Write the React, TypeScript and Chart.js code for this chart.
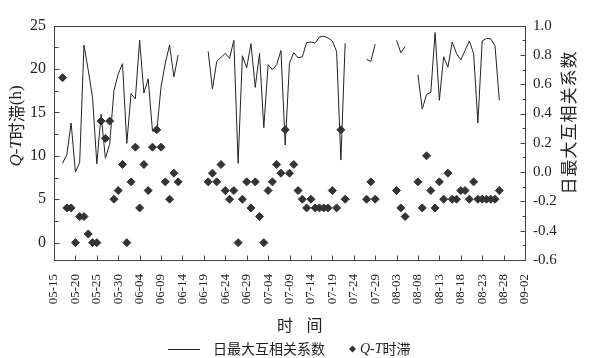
import React, { useEffect, useRef } from 'react';
import { Chart, registerables } from 'chart.js';

Chart.register(...registerables);

// x tick labels (every 5 days, 05-15 .. 09-02); day 0 = 05-15
const xTickLabels = ['05-15', '05-20', '05-25', '05-30', '06-04', '06-09', '06-14', '06-19', '06-24', '06-29', '07-04', '07-09', '07-14', '07-19', '07-24', '07-29', '08-03', '08-08', '08-13', '08-18', '08-23', '08-28', '09-02'];
const firstDataDay = 2; // 05-17

// 日最大互相关系数 (right axis), one value per day from 05-17 to 08-28
const corrValues: (number | null)[] = [
  0.06, 0.12, 0.335, 0.0, 0.067, 0.867, 0.695, 0.51, 0.056, 0.394, 0.095, 0.19, 0.557, 0.67,
  0.74, 0.196, 0.535, 0.5, 0.9, 0.54, 0.637, 0.28, 0.277, 0.583, 0.744, 0.867, 0.65, 0.8,
  null, null, null, null, null, null,
  0.824, 0.568, 0.755, 0.783, 0.81, 0.776, 0.9, 0.06, 0.794, 0.712, 0.877, 0.578, 0.81, 0.303,
  0.733, 0.7, 0.733, 0.83, 0.185, 0.744, 0.815, 0.78, 0.787, 0.884, 0.888, 0.88, 0.923, 0.927,
  0.916, 0.895, 0.824, 0.082, 0.88,
  null, null, null, null,
  0.77, 0.755, 0.873,
  null, null, null, null,
  0.9, 0.815, 0.856,
  null, null,
  0.665, 0.43, 0.53, 0.544, 0.953, 0.49, 0.787, 0.716, 0.888, 0.81, 0.766, 0.83, 0.895, 0.81,
  0.335, 0.895, 0.912, 0.91, 0.862, 0.49,
];

// Q-T时滞 (h) (left axis), one value per day from 05-17 to 08-28
const lagValues: (number | null)[] = [
  19, 4, 4, 0, 3, 3, 1, 0, 0, 14, 12, 14, 5, 6, 9, 0, 7, 11, 4, 9, 6, 11, 13, 11, 7, 5, 8, 7,
  null, null, null, null, null, null,
  7, 8, 7, 9, 6, 5, 6, 0, 5, 7, 4, 7, 3, 0, 6, 7, 9, 8, 13, 8, 9, 6, 5, 4, 5, 4, 4, 4, 4, 6, 4, 13, 5,
  null, null, null, null,
  5, 7, 5,
  null, null, null, null,
  6, 4, 3,
  null, null,
  7, 4, 10, 6, 4, 7, 5, 8, 5, 5, 6, 6, 5, 7, 5, 5, 5, 5, 5, 6,
];

const leftTicks = [0, 5, 10, 15, 20, 25];
const rightTicks = [-0.6, -0.4, -0.2, 0, 0.2, 0.4, 0.6, 0.8, 1.0];

const SERIF = '"Liberation Serif", "Times New Roman", "Noto Sans CJK SC", serif';
const CJK = '"Noto Sans CJK SC", "Noto Sans CJK JP", sans-serif';
const INK = '#222';

const decorPlugin = {
  id: 'decor',
  afterDraw(chart: any) {
    const { ctx, chartArea: a, scales } = chart;
    const sx = scales.x, sy = scales.y, sy1 = scales.y1;
    ctx.save();
    ctx.strokeStyle = '#444';
    ctx.lineWidth = 1;
    const L = Math.round(a.left) + 0.5, R = Math.round(a.right) + 0.5;
    const T = Math.round(a.top) + 0.5, B = Math.round(a.bottom) + 0.5;
    ctx.strokeRect(L, T, R - L, B - T);

    ctx.beginPath();
    // left axis inward ticks
    leftTicks.forEach((v, i) => {
      const p = Math.round(sy.getPixelForValue(v)) + 0.5;
      ctx.moveTo(L, p); ctx.lineTo(L + 5, p);
      if (i < leftTicks.length - 1) {
        const m = Math.round(sy.getPixelForValue((v + leftTicks[i + 1]) / 2)) + 0.5;
        ctx.moveTo(L, m); ctx.lineTo(L + 4, m);
      }
    });
    // right axis inward ticks
    rightTicks.forEach((v, i) => {
      const p = Math.round(sy1.getPixelForValue(v)) + 0.5;
      ctx.moveTo(R, p); ctx.lineTo(R - 5, p);
      if (i < rightTicks.length - 1) {
        const m = Math.round(sy1.getPixelForValue((v + rightTicks[i + 1]) / 2)) + 0.5;
        ctx.moveTo(R, m); ctx.lineTo(R - 3, m);
      }
    });
    // bottom axis inward ticks
    xTickLabels.forEach((_, i) => {
      const p = Math.round(sx.getPixelForValue(i * 5)) + 0.5;
      ctx.moveTo(p, B); ctx.lineTo(p, B - 5);
    });
    ctx.stroke();

    ctx.fillStyle = INK;
    ctx.textBaseline = 'middle';

    // left title: Q-T时滞(h)
    ctx.save();
    ctx.translate(9, 118);
    ctx.rotate(-Math.PI / 2);
    const parts = [
      { t: 'Q-T', f: `italic 17px ${SERIF}` },
      { t: '时滞', f: `17px ${CJK}` },
      { t: '(h)', f: `17px ${SERIF}` },
    ];
    let total = 0;
    parts.forEach((p) => { ctx.font = p.f; total += ctx.measureText(p.t).width; });
    let cx = -total / 2;
    ctx.textAlign = 'left';
    parts.forEach((p) => { ctx.font = p.f; ctx.fillText(p.t, cx, 0); cx += ctx.measureText(p.t).width; });
    ctx.restore();

    // right title: 日最大互相关系数
    ctx.save();
    ctx.translate(561, 115);
    ctx.rotate(-Math.PI / 2);
    ctx.font = `17px ${CJK}`;
    ctx.textAlign = 'center';
    const rt = '日最大互相关系数';
    const step = 18;
    for (let i = 0; i < rt.length; i++) {
      ctx.fillText(rt[i], -((rt.length - 1) * step) / 2 + i * step, 0);
    }
    ctx.restore();

    // x title: 时 间
    ctx.font = `16px ${CJK}`;
    ctx.textAlign = 'center';
    ctx.fillText('时', 277, 317);
    ctx.fillText('间', 306.5, 317);

    // legend
    const ly = 341;
    ctx.strokeStyle = INK;
    ctx.beginPath();
    ctx.moveTo(160, ly + 0.5); ctx.lineTo(192, ly + 0.5);
    ctx.stroke();
    ctx.font = `14px ${CJK}`;
    ctx.textAlign = 'left';
    ctx.fillText('日最大互相关系数', 205, ly);
    ctx.fillStyle = '#333';
    ctx.beginPath();
    const dx = 344.5, dr = 3.5;
    ctx.moveTo(dx - dr, ly); ctx.lineTo(dx, ly - dr); ctx.lineTo(dx + dr, ly); ctx.lineTo(dx, ly + dr);
    ctx.closePath(); ctx.fill();
    ctx.fillStyle = INK;
    ctx.font = `italic 14px ${SERIF}`;
    ctx.fillText('Q-T', 352, ly);
    const qw = ctx.measureText('Q-T').width;
    ctx.font = `14px ${CJK}`;
    ctx.fillText('时滞', 352 + qw, ly);
    ctx.restore();
  },
};

export default function App() {
  const ref = useRef<HTMLCanvasElement | null>(null);
  useEffect(() => {
    if (!ref.current) return;
    const corrData = corrValues.map((v, i) => ({ x: firstDataDay + i, y: v }));
    const lagData = lagValues.map((v, i) => ({ x: firstDataDay + i, y: v }));
    const chart = new Chart(ref.current, {
      type: 'line',
      data: {
        datasets: [
          {
            label: 'Q-T时滞',
            data: lagData as any,
            yAxisID: 'y',
            showLine: false,
            pointStyle: 'rectRot',
            pointRadius: 4,
            pointBackgroundColor: '#333',
            pointBorderColor: '#333',
            pointBorderWidth: 1,
            borderColor: '#333',
          },
          {
            label: '日最大互相关系数',
            data: corrData as any,
            yAxisID: 'y1',
            borderColor: INK,
            borderWidth: 1,
            pointRadius: 0,
            spanGaps: false,
            tension: 0,
          },
        ],
      },
      options: {
        responsive: false,
        animation: false,
        events: [],
        layout: { padding: { top: 4, left: 0, right: 0, bottom: 0 } },
        plugins: { legend: { display: false }, tooltip: { enabled: false }, title: { display: false } },
        scales: {
          x: {
            type: 'linear',
            min: 0,
            max: 110,
            grid: { display: false, drawTicks: false },
            border: { display: false },
            afterBuildTicks: (s: any) => { s.ticks = xTickLabels.map((_, i) => ({ value: i * 5 })); },
            afterFit: (s: any) => { s.height = 98; },
            ticks: {
              autoSkip: false,
              minRotation: 90,
              maxRotation: 90,
              padding: 14,
              color: INK,
              font: { family: SERIF, size: 13 },
              callback: (v: any) => xTickLabels[Math.round(Number(v) / 5)] ?? '',
            },
          },
          y: {
            type: 'linear',
            position: 'left',
            min: -2,
            max: 25,
            grid: { display: false, drawTicks: false },
            border: { display: false },
            afterBuildTicks: (s: any) => { s.ticks = leftTicks.map((v) => ({ value: v })); },
            afterFit: (s: any) => { s.width = 46; },
            ticks: { padding: 8, color: INK, font: { family: SERIF, size: 16 } },
          },
          y1: {
            type: 'linear',
            position: 'right',
            min: -0.6,
            max: 1.0,
            grid: { display: false, drawTicks: false },
            border: { display: false },
            afterBuildTicks: (s: any) => { s.ticks = rightTicks.map((v) => ({ value: v })); },
            afterFit: (s: any) => { s.width = 58; },
            ticks: {
              padding: 8,
              color: INK,
              font: { family: SERIF, size: 15 },
              callback: (v: any) => Number(v).toFixed(1),
            },
          },
        },
      },
      plugins: [decorPlugin],
    });
    return () => chart.destroy();
  }, []);
  return (
    <div style={{ width: 575, height: 350 }}>
      <canvas ref={ref} width={575} height={350} style={{ display: 'block' }} />
    </div>
  );
}
